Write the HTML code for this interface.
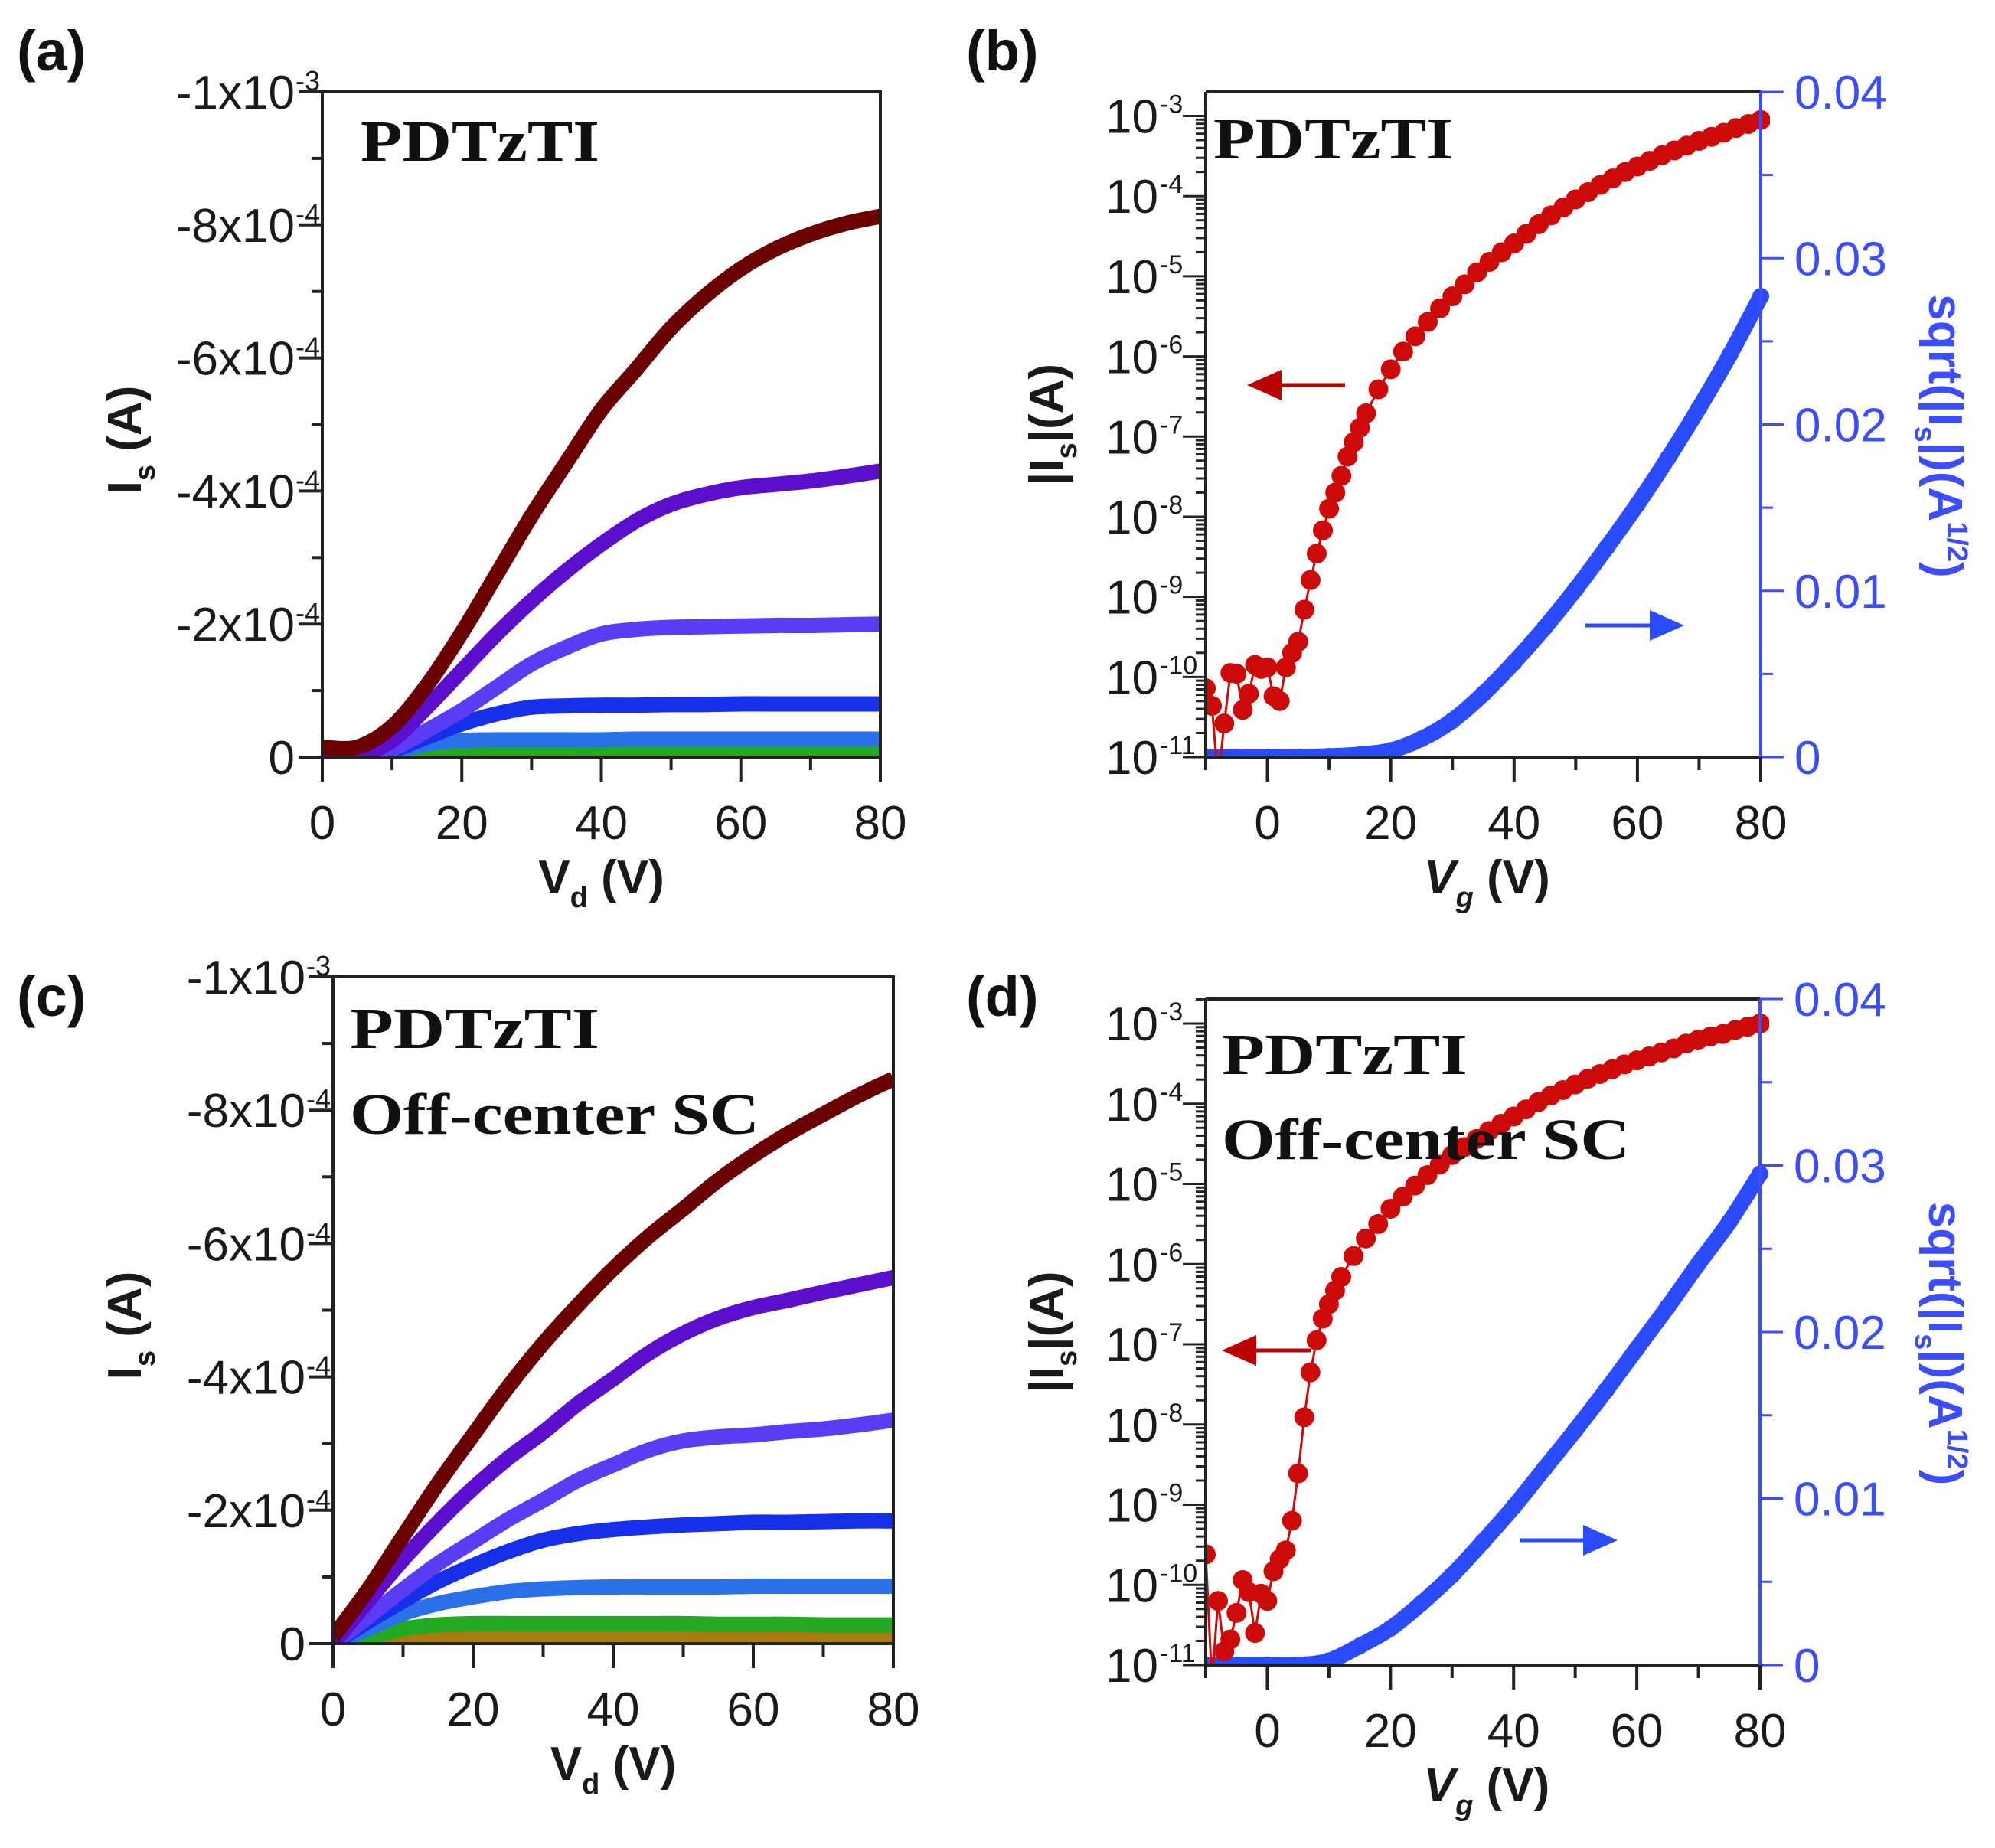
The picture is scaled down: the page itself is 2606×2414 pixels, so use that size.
<!DOCTYPE html>
<html><head><meta charset="utf-8"><style>
html,body{margin:0;padding:0;background:#fff}
svg{display:block}
text{font-family:"Liberation Sans",sans-serif}
text.serif{font-family:"Liberation Serif",serif}
</style></head>
<body>
<svg id="fig" width="2606" height="2414" viewBox="0 0 2606 2414" xmlns="http://www.w3.org/2000/svg"></svg>
<script>
// ---- data ----
const vdA = [0,5,10,15,20,25,30,35,40,45,50,55,60,65,70,75,80];
const a1 = [0.15,0.15,0.46,1.08,1.87,2.75,3.63,4.43,5.22,5.83,6.45,6.94,7.34,7.64,7.86,8.02,8.13];
const a2 = [0,0.02,0.25,0.75,1.3,1.85,2.35,2.8,3.2,3.55,3.8,3.95,4.05,4.1,4.15,4.22,4.3];
const a3 = [0,0,0.12,0.4,0.7,1.05,1.4,1.65,1.85,1.92,1.95,1.96,1.97,1.98,1.98,1.99,2.0];
const a4 = [0,0,0.1,0.3,0.5,0.65,0.75,0.77,0.78,0.78,0.79,0.79,0.8,0.8,0.8,0.8,0.8];
const a5 = [0,0,0.08,0.2,0.25,0.26,0.26,0.26,0.26,0.27,0.27,0.27,0.27,0.27,0.27,0.27,0.27];
const a6 = [0,0,0.02,0.04,0.05,0.05,0.05,0.05,0.05,0.05,0.05,0.05,0.05,0.05,0.05,0.05,0.05];
const c1 = [0.1,0.81,1.61,2.4,3.13,3.85,4.5,5.08,5.62,6.1,6.52,6.95,7.32,7.65,7.94,8.22,8.47];
const c2 = [0,0.64,1.26,1.82,2.33,2.78,3.17,3.6,3.97,4.35,4.65,4.88,5.04,5.15,5.27,5.38,5.49];
const c3 = [0,0.4,0.81,1.2,1.53,1.86,2.15,2.45,2.68,2.9,3.04,3.1,3.13,3.18,3.22,3.28,3.35];
const c4 = [0,0.33,0.64,0.93,1.17,1.38,1.55,1.65,1.71,1.75,1.78,1.8,1.82,1.82,1.83,1.84,1.84];
const c5 = [0,0.22,0.45,0.6,0.7,0.78,0.82,0.84,0.85,0.85,0.85,0.85,0.86,0.86,0.86,0.86,0.86];
const c6 = [0,0.1,0.22,0.28,0.3,0.3,0.3,0.3,0.3,0.3,0.3,0.29,0.29,0.29,0.28,0.28,0.28];
const c7 = [0,0.04,0.07,0.08,0.08,0.08,0.08,0.08,0.08,0.08,0.08,0.08,0.08,0.08,0.08,0.08,0.08];
const outColors = ["#6a0000","#5b0fcc","#5a3cf5","#1530e8","#2a70e8","#22aa22","#a87a10"];
const vgB = [-10,-9,-8,-7,-6,-5,-4,-3,-2,-1,0,1,2,3,4,5,6,7,8,9,10,11,12,13,14,15,16,18,20,22,24,26,28,30,32,34,36,38,40,42,44,46,48,50,52,54,56,58,60,62,64,66,68,70,72,74,76,78,80];
const logB = [-10.14,-10.36,-11.3,-10.58,-9.95,-9.96,-10.41,-10.21,-9.85,-9.9,-9.88,-10.24,-10.3,-9.88,-9.7,-9.56,-9.16,-8.79,-8.46,-8.17,-7.9,-7.7,-7.49,-7.25,-7.07,-6.89,-6.71,-6.41,-6.16,-5.94,-5.75,-5.57,-5.4,-5.25,-5.1,-4.95,-4.82,-4.7,-4.59,-4.47,-4.35,-4.24,-4.14,-4.04,-3.95,-3.86,-3.78,-3.7,-3.63,-3.56,-3.49,-3.43,-3.37,-3.31,-3.26,-3.21,-3.15,-3.1,-3.05];
const vgS = [-10,-5,0,5,10,15,20,25,30,35,40,45,50,55,60,65,70,75,80];
const sqrtB = [0,0,0,0,0.05,0.15,0.4,1.1,2.2,3.8,5.7,7.8,10.1,12.6,15.2,18.0,21.0,24.2,27.7];
const vgD = [-10,-9,-8,-7,-6,-5,-4,-3,-2,-1,0,1,2,3,4,5,6,7,8,9,10,11,12,14,16,18,20,22,24,26,28,30,32,34,36,38,40,42,44,46,48,50,52,54,56,58,60,62,64,66,68,70,72,74,76,78,80];
const logD = [-9.62,-11.2,-10.2,-10.83,-10.68,-10.35,-9.94,-10.09,-10.6,-10.11,-10.2,-9.83,-9.68,-9.57,-9.2,-8.61,-7.91,-7.35,-6.95,-6.68,-6.5,-6.33,-6.16,-5.9,-5.68,-5.5,-5.31,-5.16,-5.02,-4.89,-4.76,-4.64,-4.54,-4.44,-4.34,-4.25,-4.16,-4.07,-3.98,-3.9,-3.83,-3.76,-3.69,-3.63,-3.57,-3.51,-3.46,-3.41,-3.36,-3.31,-3.25,-3.2,-3.16,-3.13,-3.08,-3.04,-3.0];
const sqrtD = [0,0,0,0,0.26,1.15,2.2,3.7,5.4,7.4,9.5,11.8,14.1,16.5,19.0,21.5,24.1,26.6,29.5];
const outTicks = [0,2,4,6,8,10];
const outTickLabels = ["0","-2x10","-4x10","-6x10","-8x10","-1x10"];
const outTickExp = ["","-4","-4","-4","-4","-3"];
const vdTicks = [0,20,40,60,80];
const vgTicks = [0,20,40,60,80];
const logTicks = [-11,-10,-9,-8,-7,-6,-5,-4,-3];
const sqrtTicks = [0,10,20,30,40];
const sqrtTickLabels = ["0","0.01","0.02","0.03","0.04"];

// ---- helpers ----
const NS = "http://www.w3.org/2000/svg";
const svg = document.getElementById("fig");
function mk(tag, attrs, parent){
  const e = document.createElementNS(NS, tag);
  for (const k in attrs) e.setAttribute(k, attrs[k]);
  (parent||svg).appendChild(e);
  return e;
}
function smoothPath(pts){
  let d = "M"+pts[0][0]+","+pts[0][1];
  for (let i=0;i<pts.length-1;i++){
    const p0=pts[Math.max(0,i-1)], p1=pts[i], p2=pts[i+1], p3=pts[Math.min(pts.length-1,i+2)];
    const c1x=p1[0]+(p2[0]-p0[0])/6, c1y=p1[1]+(p2[1]-p0[1])/6;
    const c2x=p2[0]-(p3[0]-p1[0])/6, c2y=p2[1]-(p3[1]-p1[1])/6;
    d += " C"+c1x+","+c1y+" "+c2x+","+c2y+" "+p2[0]+","+p2[1];
  }
  return d;
}
function label(x,y,txt,opts){
  const t = mk("text",{x:x,y:y,"font-size":opts.size||62,"text-anchor":opts.anchor||"start",fill:opts.fill||"#1a1a1a","font-weight":opts.weight||"normal"});
  if (opts.serif) t.setAttribute("class","serif");
  if (opts.len) { t.setAttribute("textLength",opts.len); t.setAttribute("lengthAdjust","spacingAndGlyphs"); }
  t.textContent = txt;
  return t;
}

// ---- output panels ----
function outputPanel(id, L, R, T, Z, series){
  const g = mk("g",{});
  
  
  const sx = v => L + (v-0)/80*(R-L);
  const sy = v => Z - v/10*(Z-T);
  const clipId = "clip"+id;
  const cp = mk("clipPath",{id:clipId},g); mk("rect",{x:L,y:T,width:R-L,height:Z-T},cp);
  const sg = mk("g",{"clip-path":"url(#"+clipId+")"},g);
  for (let s=series.length-1;s>=0;s--){
    const pts = vdA.map((v,i)=>[sx(v), sy(series[s][i])]);
    const p = mk("path",{d:smoothPath(pts),fill:"none",stroke:outColors[s],"stroke-width":20,"stroke-linejoin":"round","stroke-linecap":"butt"},sg);
    
    
  }
  const fr = mk("rect",{x:L,y:T,width:R-L,height:Z-T,fill:"none",stroke:"#222","stroke-width":4},g);
  
  
  for (let v=0; v<=10; v++){
    const y = sy(v); const major = v%2===0;
    mk("line",{x1:L-(major?31:14),x2:L,y1:y,y2:y,stroke:"#222","stroke-width":4},g);
  }
  outTicks.forEach((v,i)=>{
    const t = label(L-36, sy(v)+22, outTickLabels[i], {anchor:"end"});
    
    
    if (outTickExp[i]) {
      const e = label(L-35, sy(v)-2, outTickExp[i], {size:36});
      
      
    }
  });
  for (let v=0; v<=80; v+=10){
    const x = sx(v); const major = v%20===0;
    mk("line",{x1:x,x2:x,y1:Z,y2:Z+(major?32:17),stroke:"#222","stroke-width":4},g);
  }
  vdTicks.forEach(v=>{
    const t = label(sx(v), Z+107, String(v), {anchor:"middle"});
    
    
  });
  const xt = mk("text",{x:(L+R)/2,y:Z+178,"font-size":62,"font-weight":"bold","text-anchor":"middle",fill:"#1a1a1a"},g);
  xt.innerHTML = 'V<tspan font-size="38" dy="18">d</tspan><tspan dy="-18"> (V)</tspan>';
  
  
  const cy = (T+Z)/2 + 20;
  const yt = mk("text",{x:0,y:0,"font-size":62,"font-weight":"bold","text-anchor":"middle",fill:"#1a1a1a",transform:"translate(184,"+cy+") rotate(-90)"},g);
  yt.innerHTML = 'I<tspan font-size="38" dy="18">s</tspan><tspan dy="-18"> (A)</tspan>';
  
  
  return g;
}

// ---- transfer panels ----
function transferPanel(id, L, R, T, Z, L3, vg, lg, sq, arrowR, arrowB){
  const g = mk("g",{});
  
  
  const sx = v => L + (v+10)/90*(R-L);
  const dec = (Z-L3)/8;
  const sy = v => Z - (v+11)*dec;
  const sr = v => Z - v/40*(Z-T);
  const clipId = "clip"+id;
  const cp = mk("clipPath",{id:clipId},g); mk("rect",{x:L,y:T,width:R-L+12,height:Z-T+2},cp);
  const sg = mk("g",{"clip-path":"url(#"+clipId+")"},g);
  const bpts = vg.blueX.map((v,i)=>[sx(v), sr(sq[i])]);
  const bl = mk("path",{d:smoothPath(bpts),fill:"none",stroke:"#2a4bff","stroke-width":21},sg);
  
  
  bpts.forEach(p=>{ const c=mk("circle",{cx:p[0],cy:p[1],r:11,fill:"#2a4bff"},sg);
    
     });
  const rpts = vg.redX.map((v,i)=>[sx(v), sy(lg[i])]);
  const rl = mk("polyline",{points:rpts.map(p=>p.join(",")).join(" "),fill:"none",stroke:"#cc0a0a","stroke-width":3},sg);
  
  
  rpts.forEach(p=>{ const c=mk("circle",{cx:p[0],cy:p[1],r:13,fill:"#cc0a0a"},sg);
    
     });
  mk("line",{x1:L,x2:R,y1:T,y2:T,stroke:"#222","stroke-width":4},g);
  mk("line",{x1:L,x2:L,y1:T,y2:Z,stroke:"#222","stroke-width":4},g);
  mk("line",{x1:L,x2:R,y1:Z,y2:Z,stroke:"#222","stroke-width":4},g);
  mk("line",{x1:R,x2:R,y1:T,y2:Z,stroke:"#3b4dff","stroke-width":4},g);
  for (let d=-11; d<=-3; d++){
    for (let m=1; m<10; m++){
      const v = d + Math.log10(m); const y = sy(v);
      if (y < T) break;
      mk("line",{x1:L-(m===1?30:13),x2:L,y1:y,y2:y,stroke:"#222","stroke-width":3},g);
    }
  }
  logTicks.forEach(v=>{
    const t = label(L-62, sy(v)+22, "10", {anchor:"end"});
    
    
    const e = label(L-60, sy(v)-4, String(v), {size:34});
    
    
  });
  for (let v=0; v<=40; v+=5){
    const y = sr(v); const major = v%10===0;
    mk("line",{x1:R,x2:R+(major?30:16),y1:y,y2:y,stroke:"#3b4dff","stroke-width":3},g);
  }
  sqrtTicks.forEach((v,i)=>{
    const t = label(R+44, sr(v)+22, sqrtTickLabels[i], {fill:"#3b4dff"});
    
    
  });
  for (let v=-10; v<=80; v+=10){
    const x = sx(v); const major = v%20===0;
    mk("line",{x1:x,x2:x,y1:Z,y2:Z+(major?32:17),stroke:"#222","stroke-width":4},g);
  }
  vgTicks.forEach(v=>{
    const t = label(sx(v), Z+107, String(v), {anchor:"middle"});
    
    
  });
  const xt = mk("text",{x:(L+R)/2+5,y:Z+178,"font-size":62,"font-weight":"bold","text-anchor":"middle",fill:"#1a1a1a"},g);
  xt.innerHTML = '<tspan font-style="italic">V</tspan><tspan font-size="38" dy="18" font-style="italic">g</tspan><tspan dy="-18"> (V)</tspan>';
  
  
  const cy = (T+Z)/2;
  const yt = mk("text",{x:0,y:0,"font-size":62,"font-weight":"bold","text-anchor":"middle",fill:"#1a1a1a",transform:"translate(1388,"+cy+") rotate(-90)"},g);
  yt.innerHTML = '|I<tspan font-size="38" dy="18">s</tspan><tspan dy="-18">|(A)</tspan>';
  
  
  const rt = mk("text",{x:0,y:0,"font-size":62,"font-weight":"bold","text-anchor":"middle",fill:"#3b4dff",transform:"translate(2520,"+(cy+15)+") rotate(90)"},g);
  rt.innerHTML = 'sqrt(|I<tspan font-size="38" dy="18">s</tspan><tspan dy="-18">|)(A</tspan><tspan font-size="38" dy="-24">1/2</tspan><tspan dy="24">)</tspan>';
  
  
  const ra = mk("g",{},g);
  
  
  mk("line",{x1:arrowR[0],x2:arrowR[1]+40,y1:arrowR[2],y2:arrowR[2],stroke:"#b00",'stroke-width':5},ra);
  mk("polygon",{points:(arrowR[1])+","+arrowR[2]+" "+(arrowR[1]+45)+","+(arrowR[2]-20)+" "+(arrowR[1]+45)+","+(arrowR[2]+20),fill:"#b00"},ra);
  const ba = mk("g",{},g);
  
  
  mk("line",{x1:arrowB[0],x2:arrowB[1]-40,y1:arrowB[2],y2:arrowB[2],stroke:"#2a4bff",'stroke-width':5},ba);
  mk("polygon",{points:(arrowB[1])+","+arrowB[2]+" "+(arrowB[1]-45)+","+(arrowB[2]-20)+" "+(arrowB[1]-45)+","+(arrowB[2]+20),fill:"#2a4bff"},ba);
  return g;
}

outputPanel("a", 421, 1150, 120, 989, [a1,a2,a3,a4,a5,a6]);
outputPanel("c", 435, 1167, 1276, 2147, [c1,c2,c3,c4,c5,c6,c7]);
transferPanel("b", 1575, 2300, 120, 989, 151.5, {redX:vgB, blueX:vgS}, logB, sqrtB, [1757,1629,503], [2071,2200,817]);
transferPanel("d", 1575, 2299, 1305, 2175, 1337, {redX:vgD, blueX:vgS}, logD, sqrtD, [1712,1596,1764], [1985,2113,2012]);

[["(a)",22,92],["(b)",1262,92],["(c)",22,1327],["(d)",1262,1327]].forEach(p=>{
  const t = label(p[1],p[2],p[0],{size:74,weight:"bold",fill:"#111"});
  
  
});
[["PDTzTI",471,210,312],["PDTzTI",1585,207,313],["PDTzTI",457,1369,326],["Off-center SC",457,1481,535],["PDTzTI",1596,1403,321],["Off-center SC",1596,1514,533]].forEach(p=>{
  const t = label(p[1],p[2],p[0],{size:76,weight:"bold",serif:true,fill:"#111",len:p[3]});
  
  
});
</script>
</body></html>
